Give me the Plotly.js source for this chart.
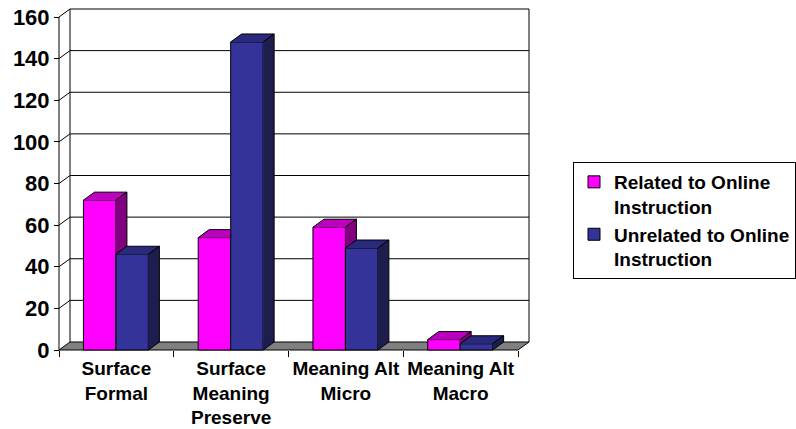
<!DOCTYPE html>
<html>
<head>
<meta charset="utf-8">
<script src="https://cdn.plot.ly/plotly-3.0.1.min.js"></script>
<style>html,body{margin:0;padding:0;background:#fff;}#chart{width:796px;height:429px;}</style>
</head>
<body>
<div id="chart"></div>
<script>
// ---- data ----
const categories = ['Surface<br>Formal', 'Surface<br>Meaning<br>Preserve', 'Meaning Alt<br>Micro', 'Meaning Alt<br>Macro'];
const related = [72, 54, 59, 5];
const unrelated = [46, 148, 49, 3];
const seriesNames = ['Related to Online<br>Instruction', 'Unrelated to Online<br>Instruction'];
const yTicks = [0, 20, 40, 60, 80, 100, 120, 140, 160];

// ---- style / geometry constants ----
const U = 114.75;          // px per category unit
const V = 333 / 160;       // px per value unit
const DX = 11 / U;         // 3D depth offset (x, data units)
const DY = 8 / V;          // 3D depth offset (y, data units)
const BAR_LEFT = 0.213, BAR_W = 0.283;
const N = categories.length;
const YMAX = 160;
const FONT = 'Liberation Sans, Arial, sans-serif';

const pinkFront = '#FF00FF', pinkTop = '#C000C0', pinkSide = '#800080';
const blueFront = '#333399', blueTop = '#2A2A7C', blueSide = '#1E1E4E';

function polys(list) {
  const x = [], y = [];
  list.forEach(p => { p.forEach(q => { x.push(q[0]); y.push(q[1]); }); x.push(null); y.push(null); });
  return {x, y};
}

const pTop = [], pSide = [], bTop = [], bSide = [];
for (let i = 0; i < N; i++) {
  const vP = related[i], vB = unrelated[i];
  const a0 = i + BAR_LEFT, a1 = a0 + BAR_W, b1 = a1 + BAR_W;
  if (vB > vP) {
    pTop.push([[a0, vP], [a0 + DX, vP + DY], [a1, vP + DY], [a1, vP]]);
  } else {
    pTop.push([[a0, vP], [a0 + DX, vP + DY], [a1 + DX, vP + DY], [a1, vP]]);
    pSide.push([[a1, vB], [a1 + DX, vB + DY], [a1 + DX, vP + DY], [a1, vP]]);
  }
  bTop.push([[a1, vB], [a1 + DX, vB + DY], [b1 + DX, vB + DY], [b1, vB]]);
  bSide.push([[b1, 0], [b1 + DX, DY], [b1 + DX, vB + DY], [b1, vB]]);
}

function face(list, color) {
  const p = polys(list);
  return {type: 'scatter', mode: 'lines', x: p.x, y: p.y, fill: 'toself', fillcolor: color,
          line: {color: '#000', width: 1}, showlegend: false, hoverinfo: 'skip'};
}

const data = [
  {type: 'bar', name: seriesNames[0], x: related.map((_, i) => i + BAR_LEFT + BAR_W / 2), y: related,
   width: BAR_W, marker: {color: pinkFront, line: {color: '#000', width: 1}}, hoverinfo: 'skip'},
  {type: 'bar', name: seriesNames[1], x: unrelated.map((_, i) => i + BAR_LEFT + 1.5 * BAR_W), y: unrelated,
   width: BAR_W, marker: {color: blueFront, line: {color: '#000', width: 1}}, hoverinfo: 'skip'},
  face(pTop, pinkTop), face(pSide, pinkSide), face(bTop, blueTop), face(bSide, blueSide),
  {type: 'scatter', mode: 'markers', x: [0], y: [0], xaxis: 'x2', marker: {opacity: 0}, showlegend: false, hoverinfo: 'skip'}
];

const shapes = [];
function seg(x0, y0, x1, y1, layer) {
  shapes.push({type: 'line', xref: 'x', yref: 'y', x0, y0, x1, y1, layer: layer || 'below', line: {color: '#000', width: 1}});
}
shapes.push({type: 'path', xref: 'x', yref: 'y', layer: 'below',
  path: `M0,0 L${N},0 L${N + DX},${DY} L${DX},${DY} Z`, fillcolor: '#808080', line: {color: '#000', width: 1}});
yTicks.filter(v => v > 0).forEach(v => { seg(DX, v + DY, N + DX, v + DY); seg(0, v, DX, v + DY); });
seg(DX, DY, DX, YMAX + DY);
seg(N + DX, DY, N + DX, YMAX + DY);
seg(0, 0, 0, YMAX, 'above');

const L = 56, T = 7;
const xr = [-3 / U, N + DX + 2 / U];
const yr = [-3 / V, YMAX + DY + 2 / V];
const plotW = (xr[1] - xr[0]) * U, plotH = (yr[1] - yr[0]) * V;
const layout = {
  width: 796, height: 429,
  margin: {l: L, t: T, r: 796 - L - plotW, b: 429 - T - plotH, pad: 0, autoexpand: false},
  paper_bgcolor: '#fff', plot_bgcolor: 'rgba(0,0,0,0)',
  barmode: 'overlay', hovermode: false,
  font: {family: FONT, color: '#000'},
  xaxis: {range: xr, showgrid: false, zeroline: false, showline: false, ticks: '',
          tickvals: categories.map((_, i) => i + 0.5), ticktext: categories,
          anchor: 'free', position: (3 / V) / (yr[1] - yr[0]), ticklabelstandoff: 5,
          tickfont: {family: FONT, size: 19, weight: 'bold', color: '#000'}},
  xaxis2: {range: xr, overlaying: 'x', showgrid: false, zeroline: false, showline: false,
           ticks: 'outside', ticklen: 6, tickcolor: '#000', tickwidth: 1,
           tickvals: categories.map((_, i) => i).concat([N]), showticklabels: false,
           anchor: 'free', position: (3 / V) / (yr[1] - yr[0])},
  yaxis: {range: yr, showgrid: false, zeroline: false, showline: false,
          ticks: 'outside', ticklen: 5, tickcolor: '#000', tickwidth: 1, tickvals: yTicks,
          anchor: 'free', position: (3 / U) / (xr[1] - xr[0]),
          tickfont: {family: FONT, size: 22, weight: 'bold', color: '#000'}},
  legend: {x: (573 - L) / plotW, y: (T + plotH - 162) / plotH, xanchor: 'left', yanchor: 'top',
           bgcolor: '#fff', bordercolor: '#000', borderwidth: 1, valign: 'top',
           font: {family: FONT, size: 19, weight: 'bold', color: '#000'}},
  shapes: shapes,
  showlegend: true
};
Plotly.newPlot('chart', data, layout, {displayModeBar: false, staticPlot: true});
</script>
</body>
</html>
